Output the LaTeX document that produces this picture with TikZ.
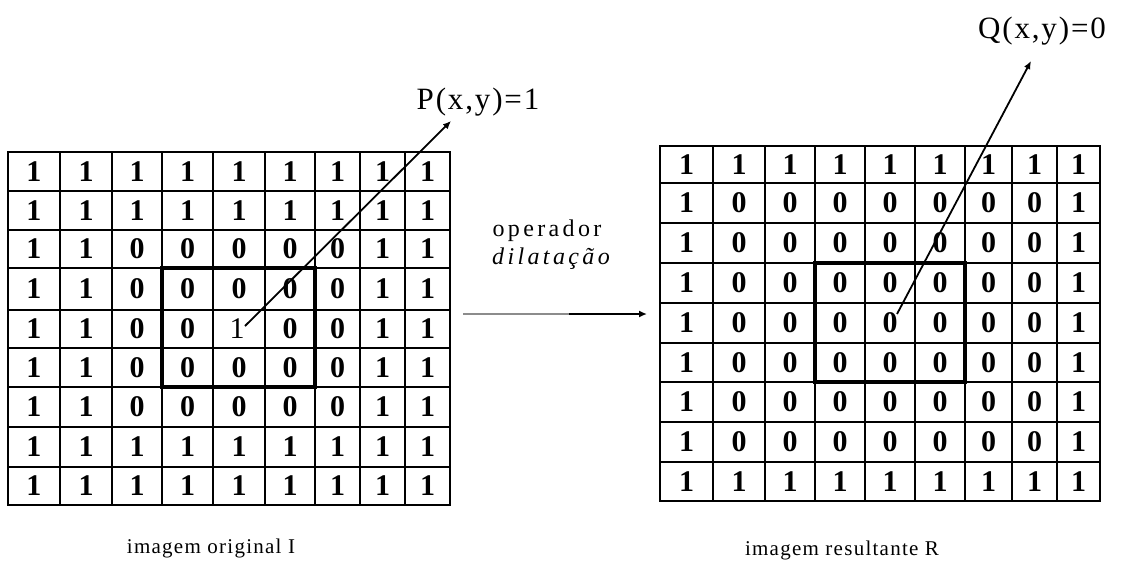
\documentclass[tikz,border=0pt]{standalone}
\usepackage{fontspec}
\setmainfont{Liberation Serif}
\usetikzlibrary{arrows.meta}
\def\lcx#1{\ifcase#1\or34\or86\or137\or187.5\or239\or290\or337.5\or382.5\or427.5\fi}
\def\lcy#1{\ifcase#1\or171.5\or210.5\or249\or289\or329\or367.5\or407\or447\or486\fi}
\def\rcx#1{\ifcase#1\or686.5\or739\or790\or840\or890\or940\or988.5\or1034.5\or1078.5\fi}
\def\rcy#1{\ifcase#1\or164.5\or203\or243\or283\or323\or362.5\or402\or442\or481.5\fi}
\begin{document}
\begin{tikzpicture}[x=1pt,y=-1pt,
  gridline/.style={line width=2.2pt, line cap=rect},
  boxline/.style={line width=4.2pt, line cap=rect},
  digit/.style={font=\fontsize{30}{30}\selectfont\bfseries, inner sep=0pt},
  digitlight/.style={font=\fontsize{30}{30}\selectfont, inner sep=0pt},
  pointer/.style={line width=1.8pt, -{Latex[length=8pt,width=7pt]}},
  label/.style={font=\fontsize{31}{31}\selectfont\addfontfeature{LetterSpace=6}, inner sep=0pt},
  optext/.style={font=\fontsize{24}{24}\selectfont\addfontfeature{LetterSpace=14}, inner sep=0pt},
  caption/.style={font=\fontsize{21}{21}\selectfont\addfontfeature{LetterSpace=6}, inner sep=0pt}
]
\useasboundingbox (0,0) rectangle (1122,562);
\fill[white] (0,0) rectangle (1122,562);

% ---------- left grid lines ----------
\foreach \xx in {8,60,112,162,213,265,315,360,405,450}
  \draw[gridline] (\xx,152) -- (\xx,505);
\foreach \yy in {152,191,230,268,310,348,387,427,467,505}
  \draw[gridline] (8,\yy) -- (450,\yy);
% ---------- right grid lines ----------
\foreach \xx in {660,713,765,815,865,915,965,1012,1057,1100}
  \draw[gridline] (\xx,146) -- (\xx,501);
\foreach \yy in {146,183,223,263,303,343,382,422,462,501}
  \draw[gridline] (660,\yy) -- (1100,\yy);

% ---------- left digits ----------
\foreach \row [count=\r] in {
  {1,1,1,1,1,1,1,1,1},
  {1,1,1,1,1,1,1,1,1},
  {1,1,0,0,0,0,0,1,1},
  {1,1,0,0,0,0,0,1,1},
  {1,1,0,0,x,0,0,1,1},
  {1,1,0,0,0,0,0,1,1},
  {1,1,0,0,0,0,0,1,1},
  {1,1,1,1,1,1,1,1,1},
  {1,1,1,1,1,1,1,1,1}}{
  \foreach \v [count=\c] in \row {
    \if x\v
      \node[digitlight] (L\r-\c) at (\lcx{\c}-2,\lcy{\r}) {1};
    \else
      \node[digit] (L\r-\c) at (\lcx{\c},\lcy{\r}) {\v};
    \fi
  }
}

% ---------- right digits ----------
\foreach \row [count=\r] in {
  {1,1,1,1,1,1,1,1,1},
  {1,0,0,0,0,0,0,0,1},
  {1,0,0,0,0,0,0,0,1},
  {1,0,0,0,0,0,0,0,1},
  {1,0,0,0,0,0,0,0,1},
  {1,0,0,0,0,0,0,0,1},
  {1,0,0,0,0,0,0,0,1},
  {1,0,0,0,0,0,0,0,1},
  {1,1,1,1,1,1,1,1,1}}{
  \foreach \v [count=\c] in \row {
    \node[digit] (R\r-\c) at (\rcx{\c},\rcy{\r}) {\v};
  }
}

% ---------- thick structuring boxes ----------
\draw[boxline] (162,268) rectangle (315,387);
\draw[boxline] (815,263) rectangle (965,382);

% ---------- labels and pointers ----------
\node[label] (P) at (478,102) {P(x,y)=1};
\node[label] (Q) at (1042,31) {Q(x,y)=0};
\coordinate (pstart) at (245,326);
\coordinate (ptip) at (451,121);
\coordinate (qstart) at (897,314);
\coordinate (qtip) at (1031,61);
\draw[pointer] (pstart) -- (ptip);
\draw[pointer] (qstart) -- (qtip);

% ---------- operator ----------
\node[optext] (op1) at (547,231) {operador};
\node[optext] (op2) at (551,259) {\itshape dilatação};
\coordinate (m1) at (463,314);
\coordinate (mmid) at (569,314);
\coordinate (m2) at (647,314);
\draw[line width=1.5pt, black!45] (m1) -- (mmid);
\draw[line width=1.8pt, -{Latex[length=8pt,width=7pt]}] (mmid) -- (m2);

% ---------- captions ----------
\node[caption] (capL) at (211,548) {imagem original I};
\node[caption] (capR) at (842,550) {imagem resultante R};
\end{tikzpicture}
\end{document}
